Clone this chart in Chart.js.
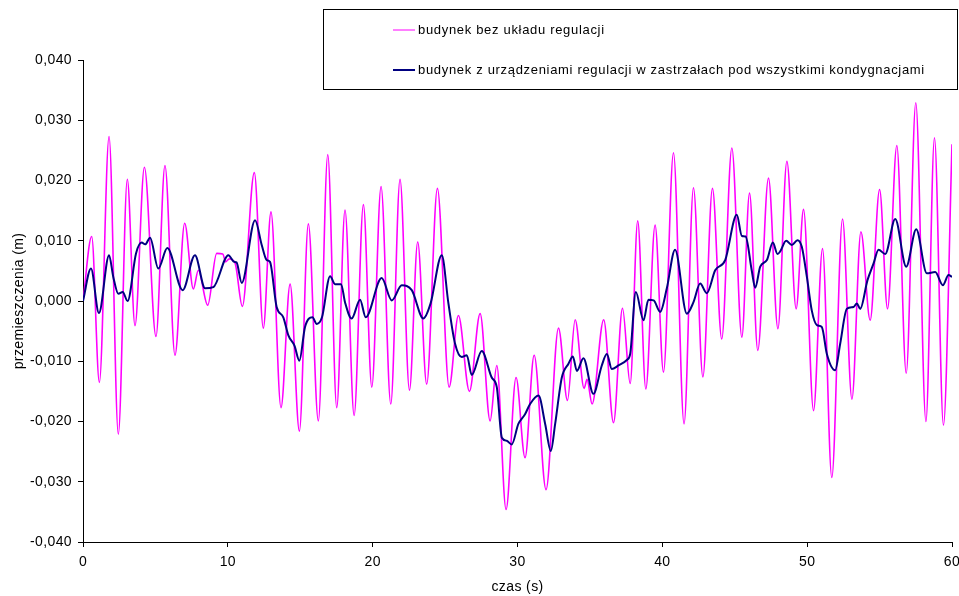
<!DOCTYPE html>
<html>
<head>
<meta charset="utf-8">
<script src="https://cdn.jsdelivr.net/npm/chart.js@4.4.1/dist/chart.umd.min.js"></script>
<style>
    html, body { margin: 0; padding: 0; background: #fff; }
    #wrap { width: 959px; height: 596px; }
</style>
</head>
<body>
<div id="wrap"><canvas id="chart" width="959" height="596"></canvas></div>
<script>
// Series names (legend)
const seriesLabels = [
    'budynek bez układu regulacji',
    'budynek z urządzeniami regulacji w zastrzałach pod wszystkimi kondygnacjami'
];

// Building without control devices - time [s] and displacement [m] (peaks / troughs)
const bezTime = [0, 0.6, 1.13, 1.8, 2.44, 3.06, 3.59, 4.24, 5.04, 5.66, 6.35, 7.02, 7.62, 7.96, 8.61, 9.23, 9.65, 9.85, 10.1, 10.5,
    11.0, 11.83, 12.45, 12.98, 13.67, 14.3, 14.94, 15.56, 16.25, 16.9, 17.52, 18.09, 18.72, 19.36, 19.94, 20.58, 21.25, 21.89,
    22.54, 23.11, 23.73, 24.47, 25.28, 25.92, 26.68, 27.42, 28.11, 28.57, 29.21, 29.9, 30.52, 31.15, 31.97, 32.83, 33.45, 33.98,
    34.6, 34.8, 35.15, 35.95, 36.63, 37.25, 37.78, 38.3, 38.86, 39.5, 40.08, 40.77, 41.5, 42.15, 42.8, 43.46, 44.1, 44.8, 45.49,
    46.02, 46.59, 47.33, 47.98, 48.6, 49.24, 49.75, 50.44, 51.06, 51.7, 52.44, 53.09, 53.71, 54.35, 55.0, 55.55, 56.19, 56.84,
    57.5, 58.2, 58.79, 59.41, 60.0];
const bezValue = [0, 0.0107, -0.0135, 0.0273, -0.0221, 0.0202, -0.0041, 0.0222, -0.0059, 0.0225, -0.009, 0.0129, 0.002, 0.0051,
    -0.0007, 0.0079, 0.0078, 0.0065, 0.007, 0.0063, -0.0009, 0.0213, -0.0045, 0.0148, -0.0177, 0.0028, -0.0216, 0.0128, -0.0199,
    0.0243, -0.0177, 0.0151, -0.019, 0.016, -0.0143, 0.019, -0.0171, 0.0202, -0.0148, 0.0098, -0.0138, 0.0187, -0.0143, -0.0024,
    -0.015, -0.0021, -0.0199, -0.0107, -0.0346, -0.0127, -0.026, -0.009, -0.0313, -0.0045, -0.0165, -0.0031, -0.0145, -0.013,
    -0.0171, -0.0031, -0.0202, -0.0012, -0.0137, 0.0133, -0.0146, 0.0126, -0.0118, 0.0246, -0.0204, 0.0188, -0.0126, 0.0187,
    -0.0063, 0.0254, -0.006, 0.0179, -0.0082, 0.0204, -0.0046, 0.0232, -0.0013, 0.0152, -0.0182, 0.0087, -0.0293, 0.0136,
    -0.0163, 0.0115, -0.0032, 0.0185, -0.0013, 0.0258, -0.012, 0.0329, -0.02, 0.0271, -0.0206, 0.026];

// Building with control devices in the braces under all storeys
const regTime = [0, 0.55, 1.1, 1.8, 2.09, 2.44, 2.74, 3.08, 3.66, 4.05, 4.3, 4.63, 5.2, 5.82, 6.88, 7.73, 8.43, 9.0, 10.04, 10.43,
    10.6, 10.96, 11.88, 12.34, 12.68, 12.91, 13.37, 13.83, 14.18, 14.6, 14.94, 15.33, 15.84, 16.14, 16.5, 17.06, 17.4, 17.82,
    18.09, 18.55, 19.13, 19.52, 20.62, 21.32, 22.01, 22.7, 23.5, 24.0, 24.77, 25.23, 25.69, 26.15, 26.5, 26.84, 27.53, 28.22,
    28.57, 28.92, 29.26, 29.6, 30.06, 30.52, 30.87, 31.45, 31.91, 32.3, 32.6, 33.06, 33.52, 33.82, 34.1, 34.55, 35.24, 35.82,
    36.17, 36.51, 36.97, 37.55, 37.78, 38.17, 38.7, 39.04, 39.4, 39.85, 40.31, 40.88, 41.69, 42.15, 42.61, 43.07, 43.65, 44.34,
    45.14, 45.49, 45.75, 46.17, 46.41, 46.76, 47.22, 47.63, 47.95, 48.13, 48.55, 48.94, 49.33, 49.63, 49.98, 50.32, 50.67,
    51.01, 51.36, 51.93, 52.28, 52.74, 53.2, 53.43, 53.66, 54.17, 54.58, 54.93, 55.39, 56.08, 56.84, 57.53, 58.26, 58.84,
    59.37, 59.76, 60.0];
const regValue = [0, 0.0054, -0.002, 0.0076, 0.004, 0.0012, 0.0015, 0.0, 0.0079, 0.0097, 0.0094, 0.0105, 0.0054, 0.0088, 0.0018,
    0.0076, 0.0021, 0.0023, 0.0076, 0.0065, 0.0064, 0.003, 0.0134, 0.0093, 0.0068, 0.0065, -0.001, -0.0027, -0.0057, -0.0074,
    -0.0099, -0.0043, -0.0027, -0.0038, -0.0027, 0.0041, 0.0028, 0.0028, -0.0002, -0.0029, 0.0002, -0.0027, 0.0038, 0.0001,
    0.0026, 0.0018, -0.0029, -0.0004, 0.0076, -0.0004, -0.0071, -0.0093, -0.009, -0.0123, -0.0083, -0.0127, -0.0143, -0.0227,
    -0.0232, -0.0238, -0.0204, -0.0188, -0.0171, -0.0157, -0.0204, -0.0249, -0.0204, -0.0127, -0.0104, -0.0092, -0.0116,
    -0.0095, -0.0154, -0.0107, -0.0088, -0.0113, -0.0107, -0.0098, -0.0088, 0.0015, -0.0032, 0.0002, 0.0001, -0.0018, 0.0021,
    0.0085, -0.0021, -0.0002, 0.0029, 0.0013, 0.0051, 0.0068, 0.0143, 0.0108, 0.0107, 0.0051, 0.0022, 0.0057, 0.0068, 0.0097,
    0.0078, 0.0082, 0.01, 0.0093, 0.0101, 0.009, 0.004, -0.0016, -0.004, -0.0043, -0.0088, -0.0115, -0.0071, -0.0013, -0.001,
    -0.0004, -0.0013, 0.0035, 0.0062, 0.0085, 0.0078, 0.0136, 0.0057, 0.0119, 0.0046, 0.0048, 0.0026, 0.0043, 0.004];

function toPoints(xs, ys) {
    return xs.map((x, i) => ({ x: x, y: ys[i] }));
}

// polish number format: 0,010 / -0,020
function formatTick(v) {
    if (Math.abs(v) < 1e-9) v = 0;
    return v.toFixed(3).replace('.', ',');
}

const axisFont = { family: 'Liberation Sans, Arial, sans-serif', size: 14 };

// small spacing like the original rendering
const spacing = {
    id: 'spacing',
    beforeLayout(chart) { chart.ctx.letterSpacing = '0.4px'; },
    beforeDraw(chart) { chart.ctx.letterSpacing = '0.4px'; }
};

// framed legend box in the top right corner
const legendBox = {
    id: 'legendBox',
    afterDraw(chart) {
        const c = chart.ctx;
        c.save();
        c.fillStyle = '#fff';
        c.fillRect(323.5, 9.5, 634, 80);
        c.strokeStyle = '#000';
        c.lineWidth = 1;
        c.strokeRect(323.5, 9.5, 634, 80);
        c.font = '13px Liberation Sans, Arial, sans-serif';
        c.letterSpacing = '0.68px';
        c.textBaseline = 'middle';
        c.textAlign = 'left';
        chart.data.datasets.forEach((ds, i) => {
            const y = 30 + i * 40;
            c.strokeStyle = ds.borderColor;
            c.lineWidth = i === 0 ? 1 : 2;
            c.beginPath();
            c.moveTo(393, y);
            c.lineTo(415, y);
            c.stroke();
            c.fillStyle = '#000';
            c.fillText(ds.label, 418, y);
        });
        c.restore();
    }
};

const ctx = document.getElementById('chart').getContext('2d');
new Chart(ctx, {
    type: 'line',
    data: {
        datasets: [{
            label: seriesLabels[0],
            data: toPoints(bezTime, bezValue),
            borderColor: '#FF00FF',
            borderWidth: 1.6,
            pointRadius: 0,
            cubicInterpolationMode: 'monotone',
            order: 2
        }, {
            label: seriesLabels[1],
            data: toPoints(regTime, regValue),
            borderColor: '#000080',
            borderWidth: 2,
            pointRadius: 0,
            cubicInterpolationMode: 'monotone',
            order: 1
        }]
    },
    options: {
        responsive: false,
        animation: false,
        layout: { padding: { left: 0, right: 7, top: 60, bottom: 0 } },
        plugins: {
            legend: { display: false },
            tooltip: { enabled: false }
        },
        scales: {
            x: {
                type: 'linear',
                min: 0,
                max: 60,
                afterFit: s => { s.height = 54; s.paddingLeft = 0; s.paddingRight = 0; },
                ticks: { stepSize: 10, color: '#000', font: axisFont, padding: 7, maxRotation: 0 },
                grid: { drawOnChartArea: false, drawTicks: true, tickLength: 5, color: '#000' },
                border: { color: '#000', width: 1 },
                title: { display: true, text: 'czas (s)', color: '#000', font: axisFont, padding: 0 }
            },
            y: {
                min: -0.04,
                max: 0.04,
                afterFit: s => { s.width = 83; },
                ticks: { stepSize: 0.01, color: '#000', font: axisFont, padding: 6, callback: v => formatTick(v) },
                grid: { drawOnChartArea: false, drawTicks: true, tickLength: 5, color: '#000' },
                border: { color: '#000', width: 1 },
                title: { display: true, text: 'przemieszczenia (m)', color: '#000', font: axisFont, padding: { top: 11 } }
            }
        }
    },
    plugins: [spacing, legendBox]
});
</script>
</body>
</html>
